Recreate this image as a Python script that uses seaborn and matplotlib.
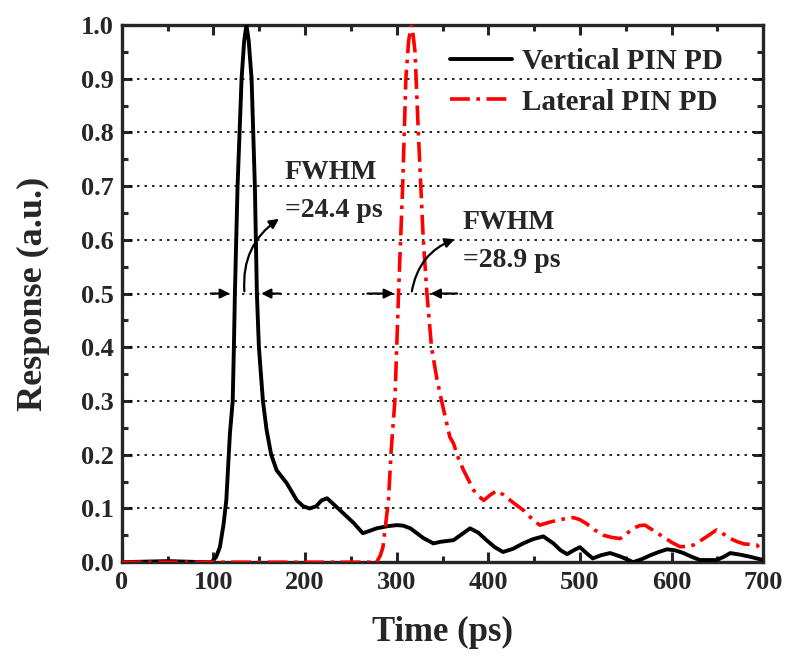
import numpy as np
import pandas as pd
import seaborn as sns
import matplotlib
matplotlib.use("Agg")
import matplotlib.pyplot as plt
from matplotlib.ticker import MultipleLocator

# ---- data ----
t_vertical = [0, 50, 90, 98, 103, 107, 111, 114, 118, 121, 122.3, 123.4, 126.3, 130.7, 133.5, 136,
              138.5, 141.6, 145.2, 147.4, 149.6, 154, 158, 163, 169, 180, 191, 198, 205, 212, 218,
              224, 231, 238, 253, 263, 270, 278, 290, 300, 307, 315, 329, 340, 348, 362, 371, 380,
              389, 398, 407, 416, 427, 438, 449, 460, 471, 479, 486, 493, 500, 507, 514, 523, 533,
              545, 558, 568, 577, 586, 595, 604, 613, 622, 631, 649, 657, 664, 675, 686, 700]
r_vertical = [0, 0.002, 0.0, 0.0, 0.01, 0.028, 0.07, 0.115, 0.24, 0.30, 0.40, 0.50, 0.70, 0.90, 0.97, 1.0,
              0.97, 0.90, 0.70, 0.50, 0.40, 0.30, 0.246, 0.20, 0.171, 0.147, 0.115, 0.104, 0.10, 0.104, 0.115,
              0.119, 0.108, 0.097, 0.073, 0.054, 0.058, 0.063, 0.067, 0.069, 0.068, 0.063, 0.045, 0.035, 0.038,
              0.041, 0.052, 0.063, 0.055, 0.041, 0.028, 0.019, 0.025, 0.035, 0.043, 0.048, 0.035, 0.022, 0.015,
              0.022, 0.028, 0.017, 0.007, 0.013, 0.017, 0.010, 0.0, 0.006, 0.013, 0.019, 0.024, 0.022, 0.017,
              0.010, 0.004, 0.004, 0.010, 0.017, 0.014, 0.010, 0.004]

t_lateral = [0, 100, 200, 270, 278, 282, 285, 291, 294, 298, 300, 302, 306.5, 310, 313, 316, 318, 320,
             323.6, 329, 331, 333, 338, 344, 349, 358, 362, 367, 373, 384, 390, 395, 402, 409, 416, 424,
             431, 438, 447, 456, 466, 475, 484, 493, 500, 507, 516, 526, 535, 544, 551, 558, 565, 571,
             581, 591, 600, 609, 617, 624, 637, 649, 657, 664, 672, 679, 686, 693, 700]
r_lateral = [0, 0.0, 0.0, 0.0, 0.0, 0.012, 0.028, 0.115, 0.209, 0.30, 0.40, 0.50, 0.70, 0.90, 0.97, 1.0,
             0.98, 0.95, 0.80, 0.60, 0.55, 0.50, 0.40, 0.34, 0.30, 0.233, 0.221, 0.195, 0.171, 0.134, 0.122,
             0.115, 0.125, 0.133, 0.126, 0.115, 0.106, 0.097, 0.082, 0.069, 0.074, 0.078, 0.081, 0.083,
             0.079, 0.072, 0.060, 0.050, 0.046, 0.044, 0.053, 0.063, 0.068, 0.069, 0.058, 0.047, 0.037,
             0.029, 0.029, 0.032, 0.046, 0.060, 0.052, 0.044, 0.038, 0.034, 0.033, 0.032, 0.019]

series_names = ["Vertical PIN PD", "Lateral PIN PD"]
fwhm_labels = ["FWHM\n=24.4 ps", "FWHM\n=28.9 ps"]
x_ticks = [0, 100, 200, 300, 400, 500, 600, 700]
y_ticks = [0.0, 0.1, 0.2, 0.3, 0.4, 0.5, 0.6, 0.7, 0.8, 0.9, 1.0]

sns.set_style("ticks")
plt.rcParams["font.family"] = ["Liberation Serif", "DejaVu Serif"]
plt.rcParams["font.weight"] = "bold"

fig = plt.figure(figsize=(7.86, 6.56), dpi=100)
ax = fig.add_axes([0.155, 0.143, 0.816, 0.819])

df_v = pd.DataFrame({"t": t_vertical, "r": r_vertical})
df_l = pd.DataFrame({"t": t_lateral, "r": r_lateral})
sns.lineplot(data=df_v, x="t", y="r", ax=ax, color="black", linewidth=2.8,
             sort=False, estimator=None, label=series_names[0], zorder=3)
sns.lineplot(data=df_l, x="t", y="r", ax=ax, color="red", linewidth=2.6,
             linestyle=(0, (5.5, 1.8, 1, 1.8)), sort=False, estimator=None,
             label=series_names[1], zorder=3)

ax.set_xlim(0, 700)
ax.set_ylim(0, 1.0)
ax.set_xticks(x_ticks)
ax.set_yticks(y_ticks)
ax.set_xticklabels([str(v) for v in x_ticks])
ax.set_yticklabels([f"{v:.1f}" for v in y_ticks])
ax.xaxis.set_minor_locator(MultipleLocator(50))
ax.yaxis.set_minor_locator(MultipleLocator(0.05))
ax.tick_params(which="both", direction="in", top=True, right=True, width=2.2,
               labelsize=19, pad=6)
ax.tick_params(which="major", length=7)
ax.tick_params(which="minor", length=4)
for lab in ax.get_xticklabels() + ax.get_yticklabels():
    lab.set_fontweight("bold")
for sp in ax.spines.values():
    sp.set_linewidth(2.4)
    sp.set_visible(True)

for yv in y_ticks[1:-1]:
    ax.axhline(yv, color="black", linestyle=(0, (1.5, 3)), linewidth=1.2, zorder=1)

ax.set_xlabel("Time (ps)", fontsize=25, fontweight="bold", labelpad=16)
ax.set_ylabel("Response (a.u.)", fontsize=26, fontweight="bold", labelpad=22)

leg = ax.legend(loc="upper right", frameon=False, fontsize=21, handlelength=2.1,
                handletextpad=0.35, borderaxespad=0.0, labelspacing=0.45,
                bbox_to_anchor=(0.955, 0.978))
for txt in leg.get_texts():
    txt.set_fontweight("bold")

arrow_kw = dict(arrowstyle="-|>", color="black", lw=1.6, mutation_scale=14)
# FWHM horizontal arrows
ax.annotate("", xy=(121, 0.5), xytext=(94, 0.5), arrowprops=arrow_kw)
ax.annotate("", xy=(149, 0.5), xytext=(176, 0.5), arrowprops=arrow_kw)
ax.annotate("", xy=(300, 0.5), xytext=(265, 0.5), arrowprops=arrow_kw)
ax.annotate("", xy=(334, 0.5), xytext=(369, 0.5), arrowprops=arrow_kw)
# curved pointers
curve_kw = dict(arrowstyle="-|>", color="black", lw=1.6, mutation_scale=14,
                connectionstyle="arc3,rad=-0.3")
ax.annotate("", xy=(174, 0.642), xytext=(134, 0.499), arrowprops=curve_kw)
ax.annotate("", xy=(366, 0.603), xytext=(316, 0.499), arrowprops=curve_kw)

ax.text(178, 0.748, fwhm_labels[0], fontsize=20, fontweight="bold", va="top",
        ha="left", linespacing=1.65)
ax.text(372, 0.655, fwhm_labels[1], fontsize=20, fontweight="bold", va="top",
        ha="left", linespacing=1.65)

fig.savefig("out.png", dpi=100)
